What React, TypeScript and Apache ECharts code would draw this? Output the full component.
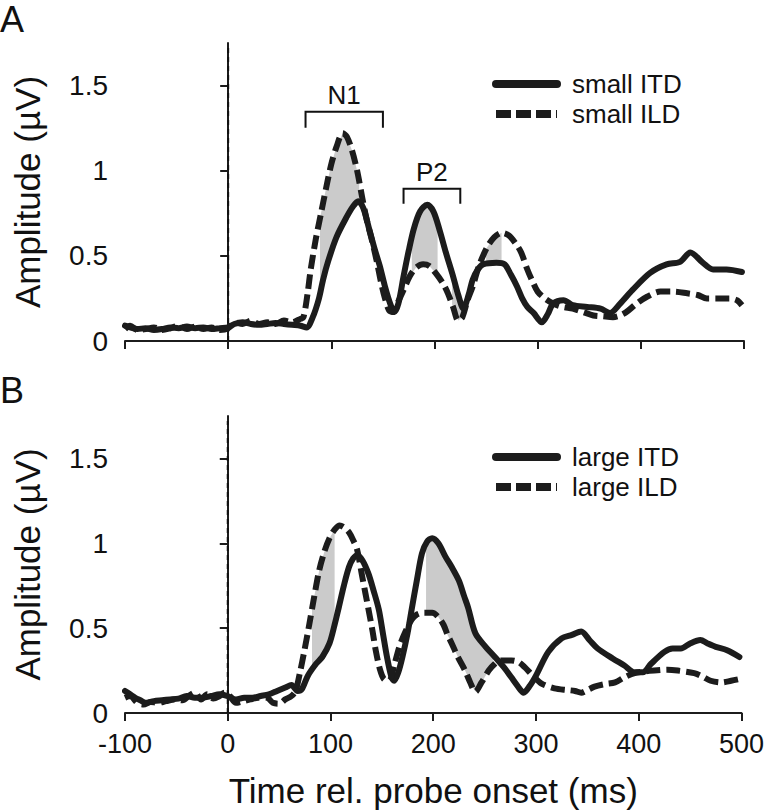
import React, { useEffect, useRef } from "react";
import * as echarts from "echarts";

const FONT = '"Liberation Sans", Arial, Helvetica, sans-serif';
const INK = "#1c1c1c";

// x: time (ms), y: amplitude (µV)
const smallItd: number[][] = [
  [-100, 0.09], [-95, 0.08], [-88, 0.07], [-80, 0.075], [-72, 0.065], [-64, 0.07], [-56, 0.08], [-48, 0.075],
  [-40, 0.085], [-32, 0.075], [-24, 0.08], [-16, 0.07], [-8, 0.075], [0, 0.08], [6, 0.1], [14, 0.11], [22, 0.1],
  [30, 0.095], [38, 0.1], [46, 0.105], [54, 0.1], [62, 0.095], [70, 0.09], [76, 0.08], [82, 0.14], [88, 0.25],
  [92, 0.36], [97, 0.47], [105, 0.61], [115, 0.73], [121, 0.79], [126, 0.82], [131, 0.78], [137, 0.65], [142, 0.54],
  [147, 0.44], [152, 0.32], [157, 0.22], [161, 0.17], [165, 0.22], [170, 0.38], [175, 0.53], [180, 0.66], [186, 0.76],
  [193, 0.8], [199, 0.76], [205, 0.65], [211, 0.52], [218, 0.38], [223, 0.27], [228, 0.19], [233, 0.27], [237, 0.36],
  [242, 0.42], [247, 0.45], [260, 0.46], [268, 0.45], [274, 0.39], [280, 0.32], [285, 0.25], [290, 0.2], [296, 0.165],
  [304, 0.11], [310, 0.16], [315, 0.22], [325, 0.24], [334, 0.21], [348, 0.2], [361, 0.19], [370, 0.165], [380, 0.22],
  [392, 0.3], [409, 0.4], [425, 0.45], [438, 0.465], [448, 0.52], [460, 0.46], [470, 0.42], [483, 0.42], [498, 0.405],
];
const smallIld: number[][] = [
  [-100, 0.07], [-95, 0.09], [-88, 0.065], [-80, 0.07], [-72, 0.08], [-64, 0.065], [-56, 0.075], [-48, 0.09],
  [-40, 0.07], [-32, 0.085], [-24, 0.07], [-16, 0.08], [-8, 0.065], [0, 0.075], [6, 0.11], [14, 0.1], [22, 0.12],
  [30, 0.1], [38, 0.11], [46, 0.1], [54, 0.12], [62, 0.11], [70, 0.13], [73, 0.14], [77, 0.28], [80, 0.42], [85, 0.6],
  [90, 0.75], [95, 0.9], [100, 1.04], [105, 1.14], [111, 1.22], [115, 1.2], [120, 1.12], [125, 1.0], [130, 0.84],
  [134, 0.72], [139, 0.6], [144, 0.47], [148, 0.35], [152, 0.25], [156, 0.18], [160, 0.17], [164, 0.22], [170, 0.3],
  [176, 0.38], [182, 0.43], [189, 0.45], [195, 0.44], [201, 0.4], [208, 0.34], [213, 0.28], [218, 0.2], [223, 0.12],
  [227, 0.14], [232, 0.24], [237, 0.32], [243, 0.44], [251, 0.55], [258, 0.61], [265, 0.635], [272, 0.62], [279, 0.57],
  [284, 0.52], [290, 0.42], [295, 0.35], [300, 0.29], [307, 0.25], [315, 0.22], [324, 0.2], [334, 0.19], [344, 0.17],
  [354, 0.15], [363, 0.145], [373, 0.14], [380, 0.15], [386, 0.17], [396, 0.22], [406, 0.26], [419, 0.29], [432, 0.29],
  [445, 0.28], [455, 0.27], [464, 0.25], [475, 0.25], [486, 0.25], [493, 0.24], [498, 0.21],
];
const largeItd: number[][] = [
  [-100, 0.13], [-95, 0.11], [-90, 0.09], [-85, 0.075], [-80, 0.06], [-72, 0.07], [-64, 0.075], [-56, 0.08],
  [-48, 0.085], [-40, 0.1], [-32, 0.09], [-24, 0.09], [-16, 0.1], [-8, 0.11], [0, 0.1], [8, 0.08], [16, 0.09],
  [24, 0.09], [32, 0.1], [40, 0.11], [48, 0.13], [56, 0.15], [62, 0.165], [68, 0.13], [72, 0.14], [78, 0.22],
  [86, 0.29], [92, 0.33], [99, 0.41], [104, 0.52], [108, 0.62], [113, 0.75], [118, 0.86], [122, 0.91], [126, 0.93],
  [131, 0.9], [137, 0.82], [142, 0.72], [147, 0.61], [151, 0.47], [155, 0.33], [159, 0.22], [162, 0.19], [166, 0.24],
  [170, 0.33], [175, 0.47], [179, 0.61], [184, 0.78], [189, 0.94], [194, 1.01], [199, 1.03], [205, 1.0], [212, 0.92],
  [218, 0.86], [225, 0.78], [230, 0.69], [234, 0.62], [241, 0.47], [251, 0.39], [260, 0.33], [270, 0.26], [276, 0.21],
  [282, 0.16], [288, 0.12], [294, 0.16], [300, 0.22], [312, 0.36], [325, 0.44], [335, 0.46], [344, 0.48], [352, 0.43],
  [360, 0.38], [375, 0.32], [386, 0.28], [396, 0.24], [404, 0.24], [412, 0.29], [425, 0.36], [433, 0.38], [441, 0.38],
  [450, 0.41], [460, 0.43], [467, 0.41], [475, 0.39], [486, 0.37], [498, 0.33],
];
const largeIld: number[][] = [
  [-100, 0.09], [-95, 0.1], [-88, 0.06], [-82, 0.05], [-75, 0.065], [-68, 0.06], [-60, 0.07], [-52, 0.08],
  [-44, 0.075], [-38, 0.1], [-32, 0.12], [-26, 0.08], [-20, 0.11], [-14, 0.085], [-8, 0.1], [-3, 0.12], [2, 0.1],
  [8, 0.06], [15, 0.07], [22, 0.08], [30, 0.09], [38, 0.09], [44, 0.06], [50, 0.055], [56, 0.08], [62, 0.1],
  [66, 0.13], [70, 0.23], [75, 0.38], [79, 0.51], [84, 0.68], [89, 0.84], [94, 0.95], [99, 1.03], [104, 1.08],
  [109, 1.105], [114, 1.09], [118, 1.065], [122, 1.02], [126, 0.96], [131, 0.8], [137, 0.61], [141, 0.48], [144, 0.37],
  [148, 0.26], [152, 0.2], [157, 0.19], [162, 0.28], [167, 0.39], [173, 0.48], [179, 0.55], [184, 0.58], [189, 0.59],
  [199, 0.59], [205, 0.565], [210, 0.52], [214, 0.46], [218, 0.41], [224, 0.33], [231, 0.25], [236, 0.18], [241, 0.125],
  [247, 0.18], [254, 0.25], [260, 0.29], [265, 0.31], [276, 0.31], [283, 0.3], [289, 0.27], [297, 0.22], [305, 0.175],
  [318, 0.145], [331, 0.135], [338, 0.13], [344, 0.12], [350, 0.135], [357, 0.155], [367, 0.17], [377, 0.18],
  [386, 0.21], [396, 0.235], [406, 0.245], [415, 0.25], [428, 0.255], [438, 0.25], [454, 0.235], [462, 0.215],
  [470, 0.19], [480, 0.18], [490, 0.19], [498, 0.2],
];

// stimulus onset marker: [time ms, from µV, to µV]
const onsetMarker: number[][] = [[0, 0, 1.72]];

// shaded (significant difference) windows, ms
const shadeA: number[][] = [[89, 127], [178, 203], [217, 229], [250, 265]];
const shadeB: number[][] = [[82, 104], [193, 258]];

// component brackets: [start ms, end ms, top µV, leg µV]
const bracketsA: number[][] = [[75, 150, 1.347, 1.253], [170, 225, 0.894, 0.806]];
const bracketLabels = ["N1", "P2"];

const yTicks = [0, 0.5, 1, 1.5];
const namesA = ["small ITD", "small ILD"];
const namesB = ["large ITD", "large ILD"];

function interp(pts: number[][], x: number): number[] {
  for (let i = 0; i < pts.length - 1; i++) {
    const [x0, y0] = pts[i];
    const [x1, y1] = pts[i + 1];
    if (x >= x0 && x <= x1) {
      const t = x1 === x0 ? 0 : (x - x0) / (x1 - x0);
      return [x, y0 + t * (y1 - y0)];
    }
  }
  return [x, pts[pts.length - 1][1]];
}
function segment(pts: number[][], a: number, b: number): number[][] {
  const out = [interp(pts, a)];
  pts.forEach((p) => {
    if (p[0] > a && p[0] < b) out.push(p);
  });
  out.push(interp(pts, b));
  return out;
}

export default function App() {
  const ref = useRef<HTMLDivElement>(null);
  useEffect(() => {
    if (!ref.current) return;
    const chart = echarts.init(ref.current, null, { renderer: "svg" });

    const grids = [
      { left: 125, top: 43, width: 619, height: 298 },
      { left: 125, top: 416, width: 619, height: 297 },
    ];
    const xAxis = [0, 1].map((i) => ({
      type: "value",
      gridIndex: i,
      min: -100,
      max: 500,
      interval: 100,
      splitLine: { show: false },
      axisLine: { lineStyle: { color: INK, width: 2 } },
      axisTick: { inside: false, length: 8, lineStyle: { color: INK, width: 2 } },
      axisLabel: { show: i === 1, color: "#111", fontSize: 27, fontFamily: FONT, margin: 17 },
      name: i === 1 ? "Time rel. probe onset (ms)" : "",
      nameLocation: "middle",
      nameGap: 60,
      nameTextStyle: { color: "#111", fontSize: 35, fontFamily: FONT },
    }));
    const yAxis = [0, 1].map((i) => ({
      type: "value",
      gridIndex: i,
      min: 0,
      max: 1.75,
      interval: 0.5,
      splitLine: { show: false },
      axisLine: { show: true, lineStyle: { color: INK, width: 2 } },
      axisTick: { show: true, inside: false, length: 8, lineStyle: { color: INK, width: 2 }, customValues: yTicks },
      axisLabel: {
        color: "#111",
        fontSize: 28,
        fontFamily: FONT,
        margin: 17,
        customValues: yTicks,
        formatter: (v: number) => String(v),
      },
      name: "Amplitude (\u00b5V)",
      nameLocation: "middle",
      nameGap: 80,
      nameRotate: 90,
      nameTextStyle: { color: "#111", fontSize: 35, fontFamily: FONT },
    }));

    const lineSeries = (name: string, data: number[][], idx: number, dashed: boolean) => ({
      type: "line",
      name,
      xAxisIndex: idx,
      yAxisIndex: idx,
      data,
      symbol: "none",
      smooth: 0.3,
      z: 3,
      lineStyle: dashed
        ? { color: INK, width: 6, type: [14, 6], cap: "butt", join: "round" }
        : { color: INK, width: 6, type: "solid", cap: "round", join: "round" },
      itemStyle: { color: INK },
    });

    const onsetSeries = (idx: number) => ({
      type: "custom",
      xAxisIndex: idx,
      yAxisIndex: idx,
      z: 2,
      silent: true,
      data: onsetMarker,
      encode: { x: 0, y: [1, 2] },
      renderItem: (params: any, api: any) => {
        const p0 = api.coord([api.value(0), api.value(1)]);
        const p1 = api.coord([api.value(0), api.value(2)]);
        return {
          type: "line",
          shape: { x1: p0[0], y1: p0[1], x2: p1[0], y2: p1[1] },
          style: { stroke: "#111", lineWidth: 2, lineDash: [5, 4], fill: null },
        };
      },
    });

    const shadeSeries = (windows: number[][], up: number[][], lo: number[][], idx: number) => ({
      type: "custom",
      xAxisIndex: idx,
      yAxisIndex: idx,
      z: 1,
      silent: true,
      data: windows,
      encode: { x: [0, 1] },
      renderItem: (params: any, api: any) => {
        const a = api.value(0);
        const b = api.value(1);
        const top = segment(up, a, b);
        const bot = segment(lo, a, b).reverse();
        const points = top.concat(bot).map((p) => api.coord(p));
        return { type: "polygon", shape: { points }, style: { fill: "#cbcbcb", stroke: null } };
      },
    });

    const bracketSeries = {
      type: "custom",
      xAxisIndex: 0,
      yAxisIndex: 0,
      z: 4,
      silent: true,
      data: bracketsA,
      encode: { x: [0, 1], y: [2, 3] },
      renderItem: (params: any, api: any) => {
        const x0 = api.value(0);
        const x1 = api.value(1);
        const yt = api.value(2);
        const yl = api.value(3);
        const a = api.coord([x0, yl]);
        const b = api.coord([x0, yt]);
        const c = api.coord([x1, yt]);
        const d = api.coord([x1, yl]);
        return {
          type: "group",
          children: [
            { type: "polyline", shape: { points: [a, b, c, d] }, style: { stroke: "#111", lineWidth: 2, fill: null } },
            {
              type: "text",
              style: {
                text: bracketLabels[params.dataIndex],
                x: (b[0] + c[0]) / 2,
                y: b[1] - 4,
                align: "center",
                verticalAlign: "bottom",
                font: `26px ${FONT}`,
                fill: "#111",
              },
            },
          ],
        };
      },
    };

    const legendOf = (names: string[], top: number) => ({
      data: [{ name: names[0] }, { name: names[1], lineStyle: { type: [15, 5] } }],
      orient: "vertical",
      left: 487,
      top,
      itemWidth: 61,
      itemHeight: 14,
      itemGap: 4,
      selectedMode: false,
      itemStyle: { opacity: 0 },
      lineStyle: { width: 8 },
      textStyle: { color: "#111", fontSize: 26, fontFamily: FONT, padding: [0, 0, 0, 10] },
    });

    chart.setOption({
      animation: false,
      backgroundColor: "#ffffff",
      grid: grids,
      xAxis,
      yAxis,
      legend: [legendOf(namesA, 66), legendOf(namesB, 439)],
      graphic: [
        { type: "text", left: 0, top: 1, style: { text: "A", font: `36px ${FONT}`, fill: "#111" } },
        { type: "text", left: 0, top: 372, style: { text: "B", font: `36px ${FONT}`, fill: "#111" } },
      ],
      series: [
        shadeSeries(shadeA, smallIld, smallItd, 0),
        shadeSeries(shadeB, largeItd, largeIld, 1),
        onsetSeries(0),
        onsetSeries(1),
        lineSeries(namesA[0], smallItd, 0, false),
        lineSeries(namesA[1], smallIld, 0, true),
        lineSeries(namesB[0], largeItd, 1, false),
        lineSeries(namesB[1], largeIld, 1, true),
        bracketSeries,
      ],
    });
    return () => chart.dispose();
  }, []);
  return <div ref={ref} style={{ position: "absolute", left: 0, top: 0, width: 767, height: 810 }} />;
}
